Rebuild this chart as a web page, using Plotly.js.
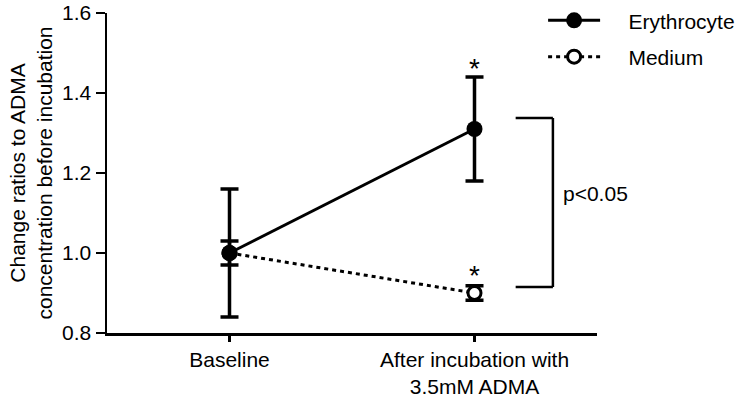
<!DOCTYPE html>
<html>
<head>
<meta charset="utf-8">
<script src="https://cdn.plot.ly/plotly-3.0.1.min.js"></script>
<style>html,body{margin:0;padding:0;background:#fff;}#chart{width:737px;height:397px;}</style>
</head>
<body>
<div id="chart"></div>
<script>
// ---- data ----
const categories = ['Baseline', 'After incubation with<br>3.5mM ADMA'];
const seriesNames = ['Erythrocyte', 'Medium'];
const erythrocyteMean = [1.00, 1.31];
const erythrocyteErr = [0.16, 0.13];
const mediumMean = [1.00, 0.90];
const mediumErr = [0.03, 0.018];
const yTicks = [0.8, 1.0, 1.2, 1.4, 1.6];
const sigLabel = 'p<0.05';
const starLabel = '*';

const FONT = 'Liberation Sans, Arial, sans-serif';
const FS = 21;
const pad = '\u00a0\u00a0\u00a0\u00a0';

const medium = {
  x: categories, y: mediumMean, name: pad + seriesNames[1], legendrank: 2, legendgroup: 'b',
  type: 'scatter', mode: 'lines+markers',
  line: {color: '#000', width: 3, dash: '4px,4px'},
  marker: {symbol: 'circle', size: 13, color: '#fff', line: {color: '#000', width: 3}},
  error_y: {type: 'data', array: mediumErr, visible: true, color: '#000', thickness: 3.5, width: 9}
};
const ery = {
  x: categories, y: erythrocyteMean, name: pad + seriesNames[0], legendrank: 1, legendgroup: 'a',
  type: 'scatter', mode: 'lines+markers',
  line: {color: '#000', width: 3},
  marker: {symbol: 'circle', size: 16, color: '#000'},
  error_y: {type: 'data', array: erythrocyteErr, visible: true, color: '#000', thickness: 3.5, width: 9}
};

const annotations = [
  {x: 1, y: erythrocyteMean[1] + erythrocyteErr[1], xref: 'x', yref: 'y', text: starLabel, showarrow: false,
   yanchor: 'bottom', font: {family: FONT, size: 28, color: '#000'}, yshift: -9},
  {x: 1, y: mediumMean[1] + mediumErr[1], xref: 'x', yref: 'y', text: starLabel, showarrow: false,
   yanchor: 'bottom', font: {family: FONT, size: 28, color: '#000'}, yshift: -7},
  {x: 1.355, y: 1.15, xref: 'x', yref: 'y', text: sigLabel, showarrow: false,
   xanchor: 'left', yanchor: 'middle', font: {family: FONT, size: FS, color: '#000'}}
];

const bx0 = 1.168, bx1 = 1.32, byTop = 1.3375, byBot = 0.915;
const shapes = [
  {type: 'line', xref: 'x', yref: 'y', x0: bx0, x1: bx1, y0: byTop, y1: byTop, line: {color: '#000', width: 2.5}},
  {type: 'line', xref: 'x', yref: 'y', x0: bx1, x1: bx1, y0: byTop, y1: byBot, line: {color: '#000', width: 2.5}},
  {type: 'line', xref: 'x', yref: 'y', x0: bx0, x1: bx1, y0: byBot, y1: byBot, line: {color: '#000', width: 2.5}}
];

const layout = {
  width: 737, height: 397,
  margin: {l: 107, r: 140, t: 13, b: 64, autoexpand: false},
  paper_bgcolor: '#fff', plot_bgcolor: '#fff',
  font: {family: FONT, size: FS, color: '#000'},
  showlegend: true,
  legend: {x: 0.89, y: 1.04, xanchor: 'left', yanchor: 'top', traceorder: 'grouped',
           tracegroupgap: 6, itemwidth: 52, font: {family: FONT, size: FS, color: '#000'},
           bgcolor: 'rgba(0,0,0,0)'},
  xaxis: {
    type: 'category', range: [-0.5, 1.5], showgrid: false, zeroline: false,
    showline: true, linecolor: '#000', linewidth: 2.5,
    ticks: 'outside', ticklen: 6, tickwidth: 2.5, tickcolor: '#000',
    tickfont: {family: FONT, size: FS, color: '#000'}
  },
  yaxis: {
    range: [0.8, 1.6], tickvals: yTicks, tickformat: '.1f', showgrid: false, zeroline: false,
    showline: true, linecolor: '#000', linewidth: 2.5,
    ticks: 'outside', ticklen: 9, tickwidth: 2.5, tickcolor: '#000',
    tickfont: {family: FONT, size: FS, color: '#000'},
    title: {text: 'Change ratios to ADMA<br>concentration before incubation', font: {family: FONT, size: FS, color: '#000'}, standoff: 4}
  },
  annotations: annotations,
  shapes: shapes
};

Plotly.newPlot('chart', [medium, ery], layout, {displayModeBar: false, staticPlot: true});
</script>
</body>
</html>
